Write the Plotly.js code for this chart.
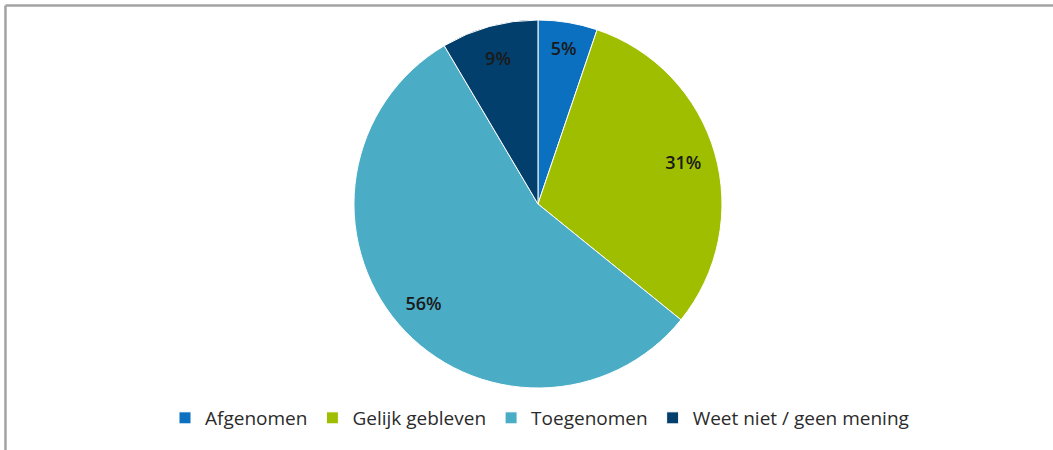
<!DOCTYPE html>
<html>
<head>
<meta charset="utf-8">
<script src="https://cdn.plot.ly/plotly-3.0.1.min.js"></script>
<style>
  html, body { margin: 0; padding: 0; background: #ffffff; }
  #chart { width: 1053px; height: 450px; }
</style>
</head>
<body>
<div id="chart"></div>
<script>
// Categories and shares (percent)
const categories = ["Afgenomen", "Gelijk gebleven", "Toegenomen", "Weet niet / geen mening"];
const shares = [5.2, 30.6, 55.6, 8.5];
const sliceColors = ["#0a70bf", "#a0be00", "#4bacc6", "#033f6c"];

const domain = { x: [0.0218, 1], y: [0, 1] };

// Main pie: the coloured slices and the legend
const pieTrace = {
  type: "pie",
  labels: categories,
  values: shares,
  sort: false,
  direction: "clockwise",
  rotation: 0,
  domain: domain,
  marker: { colors: sliceColors, line: { color: "#ffffff", width: 1 } },
  textinfo: "none",
  hoverinfo: "label+percent",
  showlegend: true
};

// Transparent overlay of the same data, only used to place the percent labels near the rim
const labelTrace = {
  type: "pie",
  labels: categories,
  values: shares,
  sort: false,
  direction: "clockwise",
  rotation: 0,
  domain: domain,
  hole: 0.644,
  marker: { colors: categories.map(() => "rgba(0,0,0,0)"), line: { width: 0 } },
  texttemplate: "%{percent:.0%}",
  textposition: "inside",
  insidetextorientation: "horizontal",
  textfont: { family: "Open Sans, Arial, sans-serif", size: 18, color: "#1a1a1a", weight: 600 },
  hoverinfo: "skip",
  showlegend: false
};

const layout = {
  width: 1053,
  height: 450,
  margin: { l: 0, r: 0, t: 20, b: 62 },
  paper_bgcolor: "#ffffff",
  plot_bgcolor: "#ffffff",
  showlegend: true,
  legend: {
    orientation: "h",
    x: 0.1567,
    xanchor: "left",
    y: -0.0815,
    yanchor: "middle",
    font: { family: "Open Sans, Arial, sans-serif", size: 19, color: "#2b2b2b" },
    bgcolor: "rgba(0,0,0,0)"
  },
  shapes: [
    { type: "line", xref: "paper", yref: "paper", x0: 0.0052, x1: 1.0, y0: 1.0394, y1: 1.0394,
      line: { color: "#a3a3a3", width: 2.5 } },
    { type: "line", xref: "paper", yref: "paper", x0: 0.0052, x1: 0.0052, y0: 1.0394, y1: -0.17,
      line: { color: "#a3a3a3", width: 2.5 } }
  ]
};

Plotly.newPlot("chart", [pieTrace, labelTrace], layout, { displayModeBar: false, staticPlot: true });
</script>
</body>
</html>
